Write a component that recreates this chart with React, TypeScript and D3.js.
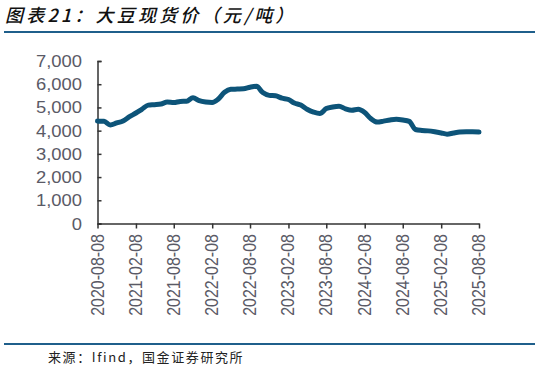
import React, { useEffect, useRef } from 'react';
import * as d3 from 'd3';

const titleText = '图表21：大豆现货价（元/吨）';
const sourceText = '来源：Ifind，国金证券研究所';

// monthly spot price, 2020-08 .. 2025-08 (yuan / tonne)
const priceStart = '2020-08-08';
const priceValues = [
  4410, 4400, 4240, 4330, 4420, 4600, 4760, 4920, 5100, 5120,
  5150, 5230, 5210, 5260, 5270, 5420, 5290, 5230, 5210, 5350,
  5650, 5780, 5790, 5800, 5870, 5910, 5640, 5520, 5500, 5400,
  5340, 5190, 5100, 4920, 4800, 4740, 4950, 5020, 5050, 4940,
  4880, 4920, 4780, 4520, 4370, 4410, 4460, 4490, 4460, 4400,
  4050, 4010, 3990, 3950, 3900, 3850, 3900, 3940, 3950, 3950,
  3940,
];
const xTickLabels = [
  '2020-08-08', '2021-02-08', '2021-08-08', '2022-02-08', '2022-08-08', '2023-02-08',
  '2023-08-08', '2024-02-08', '2024-08-08', '2025-02-08', '2025-08-08',
];
const yTicks = [0, 1000, 2000, 3000, 4000, 5000, 6000, 7000];

const App = () => {
  const ref = useRef<SVGSVGElement | null>(null);

  useEffect(() => {
    const svg = d3.select(ref.current);
    svg.selectAll('*').remove();

    const parse = d3.timeParse('%Y-%m-%d');
    const start = parse(priceStart) as Date;
    const data = priceValues.map((v, i) => ({ date: d3.timeMonth.offset(start, i), value: v }));
    const tickDates = xTickLabels.map((s) => parse(s) as Date);

    const x = d3
      .scaleTime()
      .domain([tickDates[0], tickDates[tickDates.length - 1]])
      .range([97.5, 479]);
    const y = d3.scaleLinear().domain([0, 7000]).range([223.5, 61]);

    // title + rules
    svg
      .append('text')
      .attr('x', 5)
      .attr('y', 22)
      .attr('font-family', '"Noto Sans CJK SC", sans-serif')
      .attr('font-size', 18)
      .attr('font-weight', 500)
      .attr('font-style', 'italic')
      .attr('letter-spacing', 3.2)
      .attr('fill', '#111')
      .text(titleText);
    svg.append('line').attr('x1', 4).attr('x2', 535).attr('y1', 32).attr('y2', 32)
      .attr('stroke', '#1f5f8b').attr('stroke-width', 2);
    svg.append('line').attr('x1', 4).attr('x2', 535).attr('y1', 344).attr('y2', 344)
      .attr('stroke', '#1f5f8b').attr('stroke-width', 2);
    svg
      .append('text')
      .attr('x', 48)
      .attr('y', 362)
      .attr('font-family', '"Noto Sans CJK SC", sans-serif')
      .attr('font-size', 13)
      .attr('letter-spacing', 1.6)
      .attr('fill', '#222')
      .text(sourceText);

    const labelColor = '#5a5a66';
    const axisColor = '#333';

    // y axis
    const yAxis = svg
      .append('g')
      .attr('transform', 'translate(97.5,0)')
      .call(d3.axisRight(y).tickValues(yTicks).tickSize(4).tickFormat(() => ''));
    yAxis.select('.domain').attr('stroke', axisColor).attr('stroke-width', 1.5);
    yAxis.selectAll('line').attr('stroke', axisColor).attr('stroke-width', 1.5);
    svg
      .append('g')
      .selectAll('text')
      .data(yTicks)
      .enter()
      .append('text')
      .attr('transform', (d) => `translate(82,${y(d) + 6}) scale(1.15,1)`)
      .attr('text-anchor', 'end')
      .attr('font-family', '"Liberation Sans", Arial, sans-serif')
      .attr('font-size', 16)
      .attr('fill', labelColor)
      .text((d) => d3.format(',')(d));

    // x axis
    const xAxis = svg
      .append('g')
      .attr('transform', 'translate(0,223.5)')
      .call(d3.axisBottom(x).tickValues(tickDates).tickSize(5).tickSizeOuter(0).tickFormat(() => ''));
    xAxis.select('.domain').attr('stroke', axisColor).attr('stroke-width', 1.5);
    xAxis.selectAll('line').attr('stroke', axisColor).attr('stroke-width', 1.5);
    svg
      .append('g')
      .selectAll('text')
      .data(xTickLabels)
      .enter()
      .append('text')
      .attr('transform', (_, i) => `translate(${x(tickDates[i]) + 6},234) scale(1.15,1) rotate(-90)`)
      .attr('text-anchor', 'end')
      .attr('font-family', '"Liberation Sans", Arial, sans-serif')
      .attr('font-size', 16)
      .attr('fill', labelColor)
      .text((d) => d);

    // price line
    const line = d3
      .line<{ date: Date; value: number }>()
      .x((d) => x(d.date))
      .y((d) => y(d.value))
      .curve(d3.curveMonotoneX);
    svg
      .append('path')
      .datum(data)
      .attr('fill', 'none')
      .attr('stroke', '#0d5479')
      .attr('stroke-width', 5)
      .attr('stroke-linejoin', 'round')
      .attr('stroke-linecap', 'round')
      .attr('d', line);
  }, []);

  return (
    <svg
      ref={ref}
      width={541}
      height={373}
      style={{ position: 'absolute', left: 0, top: 0, background: '#fff' }}
    />
  );
};

export default App;
